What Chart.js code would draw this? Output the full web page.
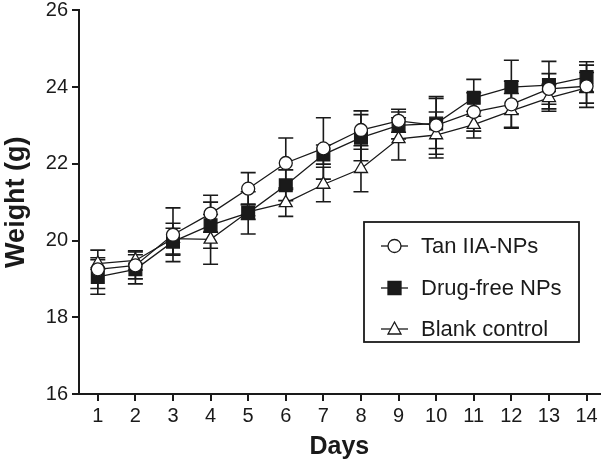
<!DOCTYPE html>
<html lang="en">
<head>
<meta charset="UTF-8">
<title>Weight</title>
<script src="https://cdn.jsdelivr.net/npm/chart.js"></script>
<style>
  body { margin: 0; background: #fff; }
  #wrap { width: 610px; height: 463px; }
</style>
</head>
<body>
<div id="wrap"><canvas id="chart" width="610" height="463"></canvas></div>
<script>
  // values
  const days = [1, 2, 3, 4, 5, 6, 7, 8, 9, 10, 11, 12, 13, 14];
  const yTicks = [16, 18, 20, 22, 24, 26];
  const seriesNames = ['Tan IIA-NPs', 'Drug-free NPs', 'Blank control'];

  const tan = [19.25, 19.35, 20.15, 20.7, 21.35, 22.02, 22.4, 22.88, 23.12, 23.0, 23.35, 23.55, 23.95, 24.02];
  const tanErr = [0.5, 0.35, 0.7, 0.48, 0.42, 0.65, 0.8, 0.5, 0.3, 0.75, 0.5, 0.6, 0.4, 0.55];
  const drug = [19.05, 19.25, 19.97, 20.4, 20.72, 21.44, 22.24, 22.68, 23.0, 23.05, 23.72, 24.0, 24.05, 24.26];
  const drugErr = [0.45, 0.38, 0.35, 0.6, 0.55, 0.4, 0.25, 0.6, 0.35, 0.65, 0.48, 0.7, 0.62, 0.4];
  const blank = [19.4, 19.48, 20.05, 20.03, 20.75, 20.98, 21.46, 21.87, 22.65, 22.75, 23.02, 23.38, 23.72, 23.98];
  const blankErr = [0.15, 0.25, 0.4, 0.65, 0.2, 0.35, 0.45, 0.6, 0.55, 0.6, 0.35, 0.45, 0.35, 0.4];

  const FONT = "'Liberation Sans', Arial, sans-serif";
  const INK = '#1a1a1a';

  function pts(vals) {
    return days.map((d, i) => ({ x: d, y: vals[i] }));
  }

  // error bars drawn under the markers
  const errorBars = {
    id: 'errorBars',
    beforeDatasetsDraw(chart) {
      const ctx = chart.ctx;
      const y = chart.scales.y;
      ctx.save();
      ctx.strokeStyle = INK;
      ctx.lineWidth = 1.6;
      chart.data.datasets.forEach((ds, di) => {
        const meta = chart.getDatasetMeta(di);
        meta.data.forEach((p, i) => {
          const v = ds.data[i].y, e = ds.errors[i];
          const top = y.getPixelForValue(v + e);
          const bot = y.getPixelForValue(v - e);
          ctx.beginPath();
          ctx.moveTo(p.x, top); ctx.lineTo(p.x, bot);
          ctx.moveTo(p.x - 7.5, top); ctx.lineTo(p.x + 7.5, top);
          ctx.moveTo(p.x - 7.5, bot); ctx.lineTo(p.x + 7.5, bot);
          ctx.stroke();
        });
      });
      ctx.restore();
    }
  };

  function marker(ctx, style, x, y) {
    ctx.beginPath();
    if (style === 'circle') {
      ctx.arc(x, y, 6.5, 0, Math.PI * 2);
      ctx.fillStyle = '#fff';
      ctx.fill(); ctx.stroke();
    } else if (style === 'rect') {
      ctx.rect(x - 6.5, y - 6.5, 13, 13);
      ctx.fillStyle = INK;
      ctx.fill(); ctx.stroke();
    } else {
      ctx.moveTo(x, y - 7);
      ctx.lineTo(x + 6.5, y + 5);
      ctx.lineTo(x - 6.5, y + 5);
      ctx.closePath();
      ctx.fillStyle = '#fff';
      ctx.fill(); ctx.stroke();
    }
  }

  // boxed legend inside the plot
  const boxLegend = {
    id: 'boxLegend',
    afterDraw(chart) {
      const ctx = chart.ctx;
      const bx = 364, by = 222, bw = 215, bh = 120;
      ctx.save();
      ctx.strokeStyle = INK;
      ctx.lineWidth = 1.8;
      ctx.fillStyle = '#fff';
      ctx.fillRect(bx, by, bw, bh);
      ctx.strokeRect(bx, by, bw, bh);
      const rows = [246, 288, 329];
      chart.data.datasets.forEach((ds, i) => {
        const ry = rows[i];
        ctx.lineWidth = 1.3;
        ctx.beginPath();
        ctx.moveTo(381, ry); ctx.lineTo(408, ry);
        ctx.stroke();
        marker(ctx, ds.pointStyle, 394.5, ry);
        ctx.fillStyle = INK;
        ctx.font = '22px ' + FONT;
        ctx.textBaseline = 'middle';
        ctx.textAlign = 'left';
        ctx.fillText(ds.label, 421, ry + 1);
      });
      ctx.restore();
    }
  };

  const common = {
    borderColor: INK,
    borderWidth: 1.3,
    pointBorderColor: INK,
    pointBorderWidth: 1.3,
    tension: 0
  };

  new Chart(document.getElementById('chart'), {
    type: 'line',
    data: {
      datasets: [
        Object.assign({}, common, {
          label: seriesNames[0], data: pts(tan), errors: tanErr,
          pointStyle: 'circle', pointRadius: 6.5, pointBackgroundColor: '#fff'
        }),
        Object.assign({}, common, {
          label: seriesNames[1], data: pts(drug), errors: drugErr,
          pointStyle: 'rect', pointRadius: 9, pointBackgroundColor: INK
        }),
        Object.assign({}, common, {
          label: seriesNames[2], data: pts(blank), errors: blankErr,
          pointStyle: 'triangle', pointRadius: 7.5, pointBackgroundColor: '#fff'
        })
      ]
    },
    options: {
      responsive: false,
      animation: false,
      layout: { padding: { top: 0, right: 7, left: 0, bottom: 0 } },
      plugins: { legend: { display: false }, tooltip: { enabled: false } },
      scales: {
        x: {
          type: 'linear',
          min: 0.5,
          max: 14.35,
          afterBuildTicks: s => { s.ticks = days.map(v => ({ value: v })); },
          afterFit: s => { s.height = 69; },
          border: { color: INK, width: 2 },
          grid: { drawOnChartArea: false, color: INK, lineWidth: 2, tickLength: 7 },
          ticks: { color: INK, font: { family: FONT, size: 20 }, padding: 3, maxRotation: 0 },
          title: {
            display: true, text: 'Days', color: INK,
            font: { family: FONT, size: 25, weight: 'bold' },
            padding: { bottom: 1 }
          }
        },
        y: {
          min: 16,
          max: 26,
          afterBuildTicks: s => { s.ticks = yTicks.map(v => ({ value: v })); },
          afterFit: s => { s.width = 79; },
          border: { color: INK, width: 2 },
          grid: { drawOnChartArea: false, color: INK, lineWidth: 2, tickLength: 7 },
          ticks: { color: INK, font: { family: FONT, size: 20, lineHeight: 0.4 }, padding: 4 },
          title: {
            display: true, text: 'Weight (g)', color: INK,
            font: { family: FONT, size: 27, weight: 'bold' },
            padding: { top: 0 }
          }
        }
      }
    },
    plugins: [errorBars, boxLegend]
  });
</script>
</body>
</html>
